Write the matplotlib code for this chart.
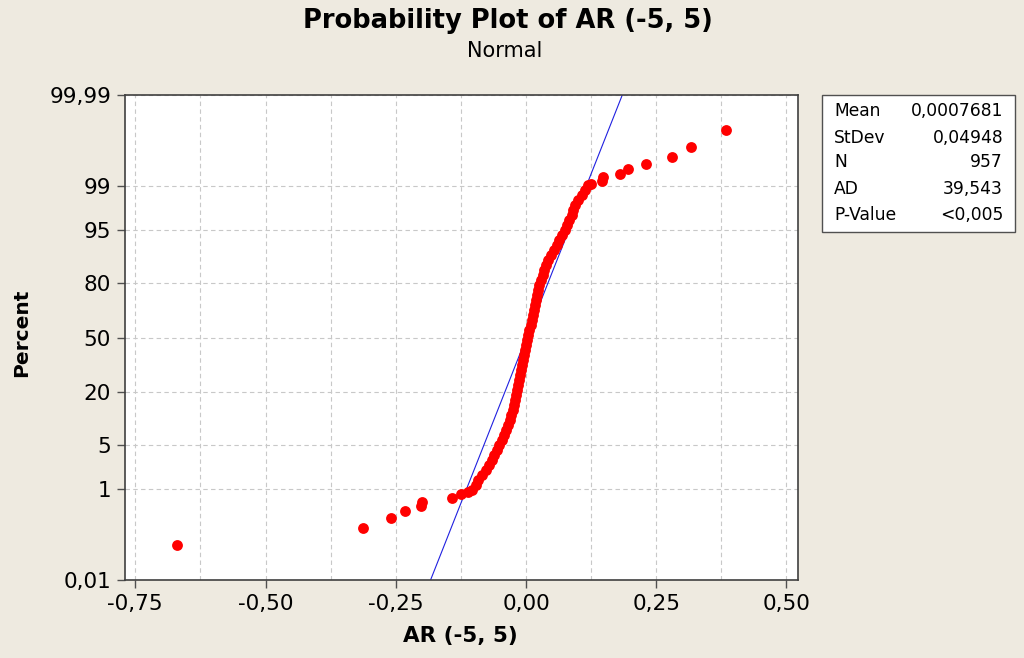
import numpy as np
import matplotlib
matplotlib.use("Agg")
import matplotlib.pyplot as plt
from matplotlib.ticker import FixedLocator, MultipleLocator, NullLocator
from matplotlib.patches import Rectangle
from statistics import NormalDist

# summary stats shown in the box
mean_ar = 0.0007681
stdev_ar = 0.04948
n_obs = 957
ad_stat = "39,543"
p_value = "<0,005"

# lower tail points (percent, AR)
low_pct = [0.073, 0.178, 0.282, 0.387, 0.491, 0.595, 0.700, 0.804, 0.909]
low_ar = [-0.6705, -0.3122, -0.2585, -0.2316, -0.2010, -0.1990, -0.1414, -0.1254, -0.1107]

# dense middle part (percent, AR)
body_pct = [0.98, 1.20, 1.46, 1.77, 2.13, 2.55, 3.05, 3.62, 4.26, 5.01,
            5.84, 6.80, 7.87, 9.05, 10.37, 11.82, 13.39, 15.13, 16.98, 18.99,
            21.16, 23.42, 25.85, 28.37, 31.03, 33.80, 36.62, 39.55, 42.54, 45.54,
            48.60, 51.64, 54.70, 57.73, 60.68, 63.61, 66.42, 69.18, 71.84, 74.35,
            76.76, 79.05, 81.16, 83.17, 85.01, 86.74, 88.32, 89.74, 91.05, 92.22,
            93.28, 94.23, 95.05, 95.79, 96.44, 96.99, 97.48, 97.90, 98.26, 98.56,
            98.82, 99.04]
body_ar = [-0.1042, -0.0965, -0.0921, -0.0839, -0.0774, -0.0710, -0.0658, -0.0614, -0.0562, -0.0518,
           -0.0466, -0.0422, -0.0378, -0.0340, -0.0307, -0.0282, -0.0255, -0.0236, -0.0211, -0.0192,
           -0.0167, -0.0148, -0.0134, -0.0115, -0.0102, -0.0083, -0.0063, -0.0044, -0.0025, -0.0006,
           0.0013, 0.0038, 0.0063, 0.0090, 0.0109, 0.0129, 0.0148, 0.0173, 0.0192, 0.0205,
           0.0230, 0.0255, 0.0288, 0.0321, 0.0351, 0.0384, 0.0428, 0.0474, 0.0532, 0.0589,
           0.0639, 0.0697, 0.0749, 0.0793, 0.0831, 0.0877, 0.0908, 0.0940, 0.1004, 0.1069,
           0.1132, 0.1196]

# upper tail points (percent, AR)
high_pct = [99.091, 99.196, 99.300, 99.405, 99.509, 99.614, 99.718, 99.822, 99.927]
high_ar = [0.1240, 0.1453, 0.1484, 0.1804, 0.1964, 0.2310, 0.2796, 0.3161, 0.3833]

y_ticks = [0.01, 1, 5, 20, 50, 80, 95, 99, 99.99]
y_labels = ["0,01", "1", "5", "20", "50", "80", "95", "99", "99,99"]
x_ticks = [-0.75, -0.50, -0.25, 0.0, 0.25, 0.50]
x_labels = ["-0,75", "-0,50", "-0,25", "0,00", "0,25", "0,50"]

nd = NormalDist()
_ppf = np.vectorize(lambda v: nd.inv_cdf(min(max(v / 100.0, 1e-9), 1 - 1e-9)), otypes=[float])
_cdf = np.vectorize(lambda v: nd.cdf(v) * 100.0, otypes=[float])

def fwd(p):
    return _ppf(np.asarray(p, dtype=float))

def inv(z):
    return _cdf(np.asarray(z, dtype=float))

bg = "#EEEAE0"
plt.rcParams['font.family'] = ['DejaVu Sans']
fig = plt.figure(figsize=(10.24, 6.58), dpi=100, facecolor=bg)
ax = fig.add_axes([0.1221, 0.1185, 0.6569, 0.7371])
ax.set_facecolor("white")
ax.set_yscale("function", functions=(fwd, inv))

pct = low_pct + body_pct + high_pct
ar = low_ar + body_ar + high_ar
ax.plot(ar, pct, "o", color="#FF0000", markersize=7.8, markeredgewidth=0, zorder=3)

# fitted normal line
line_p = np.array([0.01, 0.1, 1, 5, 20, 50, 80, 95, 99, 99.9, 99.99])
line_x = mean_ar + stdev_ar * fwd(line_p)
ax.plot(line_x, line_p, color="#2020E0", linewidth=0.8, zorder=2.5)

ax.set_xlim(-0.7697, 0.5215)
ax.set_ylim(0.01, 99.99)

ax.yaxis.set_major_locator(FixedLocator(y_ticks))
ax.yaxis.set_minor_locator(NullLocator())
ax.set_yticklabels(y_labels)
ax.xaxis.set_major_locator(FixedLocator(x_ticks))
ax.xaxis.set_minor_locator(MultipleLocator(0.125))
ax.set_xticklabels(x_labels)

ax.grid(True, which="major", axis="both", color="#C8C8C8", linestyle=(0, (4, 3)), linewidth=0.8, zorder=0)
ax.grid(True, which="minor", axis="x", color="#C8C8C8", linestyle=(0, (4, 3)), linewidth=0.8, zorder=0)
ax.set_axisbelow(True)

ax.tick_params(axis="both", which="major", labelsize=15.5, length=6, width=1, color="#505050", pad=4)
ax.tick_params(axis="x", which="minor", length=0)
for s in ax.spines.values():
    s.set_color("#404040")
    s.set_linewidth(1.2)

fig.text(0.496, 0.968, "Probability Plot of AR (-5, 5)", ha="center", va="center",
         fontsize=18.5, fontweight="bold")
fig.text(0.493, 0.923, "Normal", ha="center", va="center", fontsize=15)
fig.text(0.450, 0.034, "AR (-5, 5)", ha="center", va="center", fontsize=15.5, fontweight="bold")
fig.text(0.021, 0.494, "Percent", ha="center", va="center", rotation=90, fontsize=14.5, fontweight="bold")

# stats box
fig.patches.append(Rectangle((0.8027, 0.6474), 0.1885, 0.2082, transform=fig.transFigure,
                             facecolor="white", edgecolor="#505050", linewidth=1.0))
rows = [("Mean", "0,0007681"), ("StDev", "0,04948"), ("N", str(n_obs)),
        ("AD", ad_stat), ("P-Value", p_value)]
row_y = [0.8313, 0.7907, 0.7533, 0.7128, 0.6733]
for (k, v), yy in zip(rows, row_y):
    fig.text(0.8145, yy, k, ha="left", va="center", fontsize=12.3)
    fig.text(0.9795, yy, v, ha="right", va="center", fontsize=12.3)

fig.savefig("out.png", dpi=100, facecolor=bg)
